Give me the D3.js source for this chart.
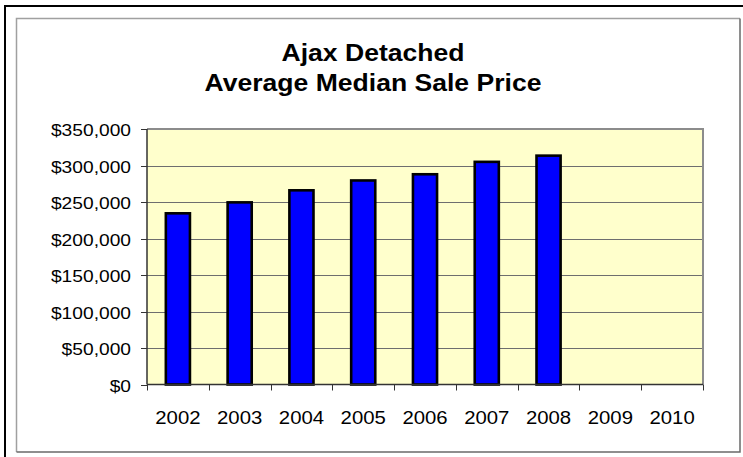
<!DOCTYPE html>
<html>
<head>
<meta charset="utf-8">
<script src="https://cdn.jsdelivr.net/npm/d3@7"></script>
<style>
  html, body { margin: 0; padding: 0; background: #ffffff; }
  svg { display: block; }
  text { font-family: "Liberation Sans", Arial, sans-serif; fill: #000; }
</style>
</head>
<body>
<svg id="chart" width="743" height="457"></svg>
<script>
const titleLines = ["Ajax Detached", "Average Median Sale Price"];
const years = ["2002", "2003", "2004", "2005", "2006", "2007", "2008", "2009", "2010"];
const prices = [234500, 249500, 266000, 279500, 288000, 305000, 313500, null, null];
const yTicks = [0, 50000, 100000, 150000, 200000, 250000, 300000, 350000];

const W = 743, H = 457;
const sx = 1.13; // horizontal text stretch seen in the reference
const plot = { left: 147, right: 703, top: 129, bottom: 384.5 };

const svg = d3.select("#chart");

// outer black frame (extends past right/bottom edges)
svg.append("rect")
  .attr("x", 5).attr("y", 6).attr("width", W + 10).attr("height", H + 10)
  .attr("fill", "#fff").attr("stroke", "#000").attr("stroke-width", 2);

// inner 3D-ish grey frame
const fx0 = 16.5, fy0 = 18.5, fx1 = 740, fy1 = 452;
svg.append("path").attr("d", `M${fx0},${fy1} V${fy0} H${fx1}`)
  .attr("fill", "none").attr("stroke", "#a0a0a0").attr("stroke-width", 1.5);
svg.append("path").attr("d", `M${fx1},${fy0} V${fy1} H${fx0}`)
  .attr("fill", "none").attr("stroke", "#6a6a6a").attr("stroke-width", 1.5);

// title
const titleG = svg.append("g");
titleLines.forEach((t, i) => {
  titleG.append("text")
    .attr("transform", `translate(373,${61 + i * 30}) scale(${sx},1)`)
    .attr("text-anchor", "middle")
    .style("font-size", "23.5px")
    .style("font-weight", "bold")
    .text(t);
});

// scales
const x = d3.scaleBand().domain(years).range([plot.left, plot.right]).padding(0);
const y = d3.scaleLinear().domain([0, 350000]).range([plot.bottom, plot.top]);

// plot background
svg.append("rect")
  .attr("x", plot.left).attr("y", plot.top)
  .attr("width", plot.right - plot.left).attr("height", plot.bottom - plot.top)
  .attr("fill", "#ffffcc");

// gridlines
svg.append("g").selectAll("line").data(yTicks.filter(d => d > 0)).join("line")
  .attr("x1", plot.left).attr("x2", plot.right)
  .attr("y1", d => Math.round(y(d)) + 0.5).attr("y2", d => Math.round(y(d)) + 0.5)
  .attr("stroke", "#6e6e6e").attr("stroke-width", 1);

// plot border top/right
svg.append("path")
  .attr("d", `M${plot.left},${plot.top} H${plot.right} V${plot.bottom}`)
  .attr("fill", "none").attr("stroke", "#8c8c8c").attr("stroke-width", 2);

// bars
const barW = x.bandwidth() * 0.39;
svg.append("g").selectAll("rect")
  .data(years.map((yr, i) => ({ yr, v: prices[i] })).filter(d => d.v != null))
  .join("rect")
  .attr("x", d => x(d.yr) + (x.bandwidth() - barW) / 2)
  .attr("y", d => y(d.v))
  .attr("width", barW)
  .attr("height", d => y(0) - y(d.v))
  .attr("fill", "#0000ff")
  .attr("stroke", "#000").attr("stroke-width", 2.6);

// y axis
const yAxis = svg.append("g");
yAxis.append("line")
  .attr("x1", plot.left).attr("x2", plot.left)
  .attr("y1", plot.top).attr("y2", plot.bottom)
  .attr("stroke", "#333").attr("stroke-width", 1.5);
const fmt = d3.format("$,");
yTicks.forEach(v => {
  const yy = Math.round(y(v)) + 0.5;
  yAxis.append("line").attr("x1", plot.left - 6).attr("x2", plot.left)
    .attr("y1", yy).attr("y2", yy).attr("stroke", "#333").attr("stroke-width", 1);
  yAxis.append("text")
    .attr("transform", `translate(131,${yy + 6}) scale(${sx},1)`)
    .attr("text-anchor", "end")
    .style("font-size", "17px")
    .text(fmt(v));
});

// x axis
const xAxis = svg.append("g");
xAxis.append("line")
  .attr("x1", plot.left).attr("x2", plot.right)
  .attr("y1", plot.bottom).attr("y2", plot.bottom)
  .attr("stroke", "#333").attr("stroke-width", 1.5);
const bounds = years.map(d => x(d)).concat([x(years[years.length - 1]) + x.bandwidth()]);
bounds.forEach(bx => {
  const xx = Math.round(bx) + 0.5;
  xAxis.append("line").attr("x1", xx).attr("x2", xx)
    .attr("y1", plot.bottom).attr("y2", plot.bottom + 6)
    .attr("stroke", "#333").attr("stroke-width", 1);
});
years.forEach(yr => {
  xAxis.append("text")
    .attr("transform", `translate(${x(yr) + x.bandwidth() / 2},424) scale(${sx},1)`)
    .attr("text-anchor", "middle")
    .style("font-size", "18px")
    .text(yr);
});
</script>
</body>
</html>
